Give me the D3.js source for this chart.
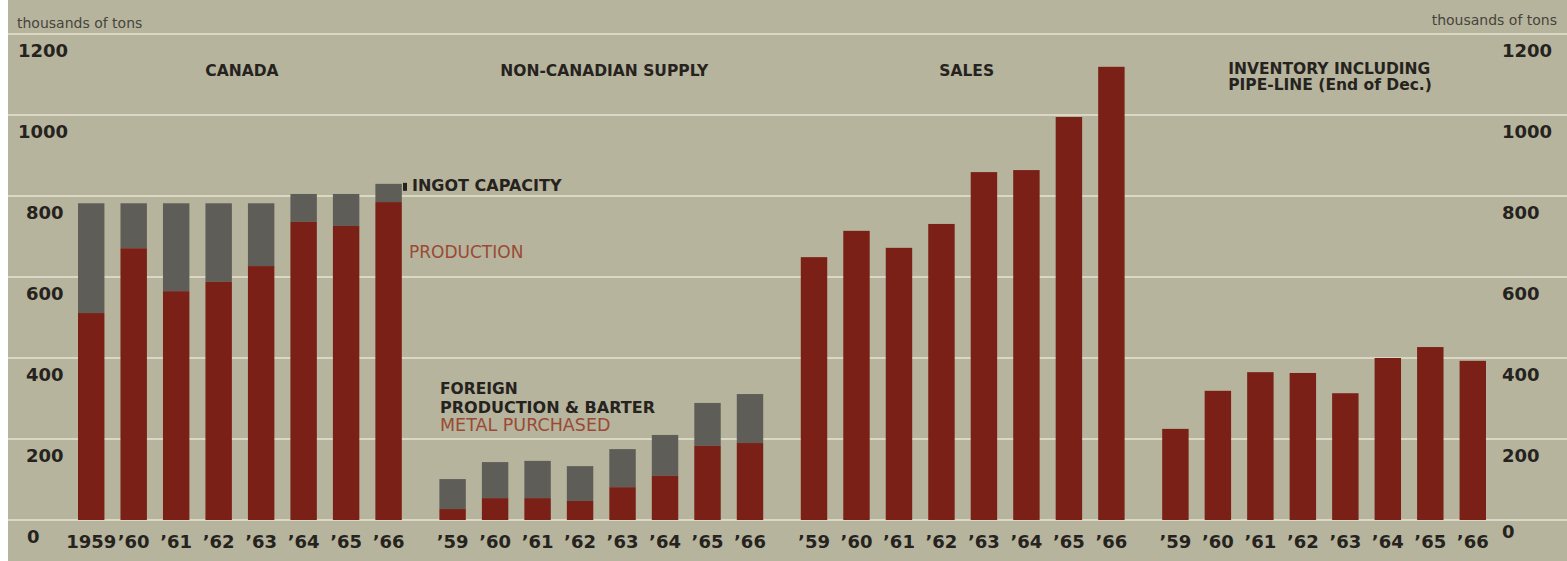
<!DOCTYPE html>
<html>
<head>
<meta charset="utf-8">
<script src="https://cdn.jsdelivr.net/npm/d3@7"></script>
<style>
  html, body { margin: 0; padding: 0; background: #fff; }
  svg { display: block; }
</style>
</head>
<body>
<div id="chart"></div>
<script>
// data (thousands of tons)
const years = ["1959", "1960", "1961", "1962", "1963", "1964", "1965", "1966"];
const groups = ["canada", "foreign", "sales", "inventory"];

const canadaProduction = [511, 671, 565, 588, 627, 736, 726, 785];
const canadaCapacity   = [782, 782, 782, 782, 782, 805, 805, 830];
const metalPurchased   = [27, 54, 54, 47, 81, 109, 183, 190];
const foreignSupply    = [101, 143, 146, 133, 175, 210, 289, 311];   // purchased + production & barter
const sales            = [649, 714, 672, 731, 859, 864, 995, 1119];
const inventory        = [225, 319, 365, 363, 313, 400, 427, 393];

const firstYearLabels = ["1959", "’60", "’61", "’62", "’63", "’64", "’65", "’66"];
const shortYearLabels = ["’59", "’60", "’61", "’62", "’63", "’64", "’65", "’66"];
const yTicks = [0, 200, 400, 600, 800, 1000, 1200];

const width = 1567;
const height = 561;

const colors = {
  bg: "#b6b49c",
  grid: "#dad8c4",
  red: "#7a2016",
  gray: "#5f5d58",
  ink: "#26231f",
  redText: "#9a4a36"
};

const svg = d3.select("#chart")
  .append("svg")
  .attr("width", width)
  .attr("height", height);

// paper background (thin white strip at the left edge like the scan)
svg.append("rect")
  .attr("x", 8).attr("y", 0)
  .attr("width", width - 8).attr("height", height)
  .attr("fill", colors.bg);

const y = d3.scaleLinear().domain([0, 1200]).range([520, 34]);

const xGroup = d3.scaleBand()
  .domain(groups)
  .range([78, 1486])
  .paddingInner(0.104)
  .paddingOuter(0);

const xYear = d3.scaleBand()
  .domain(years)
  .range([0, xGroup.bandwidth()])
  .paddingInner(0.378)
  .paddingOuter(0);

// gridlines
svg.append("g")
  .selectAll("line")
  .data(yTicks)
  .enter()
  .append("line")
  .attr("x1", 8)
  .attr("x2", width)
  .attr("y1", d => y(d))
  .attr("y2", d => y(d))
  .attr("stroke", colors.grid)
  .attr("stroke-width", 2);

// y labels, sitting just below each gridline, both sides
const tickFont = "'DejaVu Sans', sans-serif";
svg.append("g")
  .selectAll("text")
  .data(yTicks)
  .enter()
  .append("text")
  .attr("x", d => d >= 1000 ? 18 : (d === 0 ? 27 : 26))
  .attr("y", d => y(d) + 23)
  .attr("font-family", tickFont)
  .attr("font-weight", "bold")
  .attr("font-size", 18)
  .attr("fill", colors.ink)
  .text(d => d);

svg.append("g")
  .selectAll("text")
  .data(yTicks)
  .enter()
  .append("text")
  .attr("x", 1502)
  .attr("y", d => y(d) + (d === 0 ? 18 : 23))
  .attr("font-family", tickFont)
  .attr("font-weight", "bold")
  .attr("font-size", 18)
  .attr("fill", colors.ink)
  .text(d => d);

// unit notes
svg.append("text")
  .attr("x", 17).attr("y", 28)
  .attr("font-family", tickFont)
  .attr("font-size", 14)
  .attr("fill", "#47443c")
  .text("thousands of tons");

svg.append("text")
  .attr("x", 1557).attr("y", 25)
  .attr("text-anchor", "end")
  .attr("font-family", tickFont)
  .attr("font-size", 14)
  .attr("fill", "#47443c")
  .text("thousands of tons");

// panels: red lower part, optional gray upper part
const panels = [
  { key: "canada", lower: canadaProduction, upper: canadaCapacity, labels: firstYearLabels },
  { key: "foreign", lower: metalPurchased, upper: foreignSupply, labels: shortYearLabels },
  { key: "sales", lower: sales, upper: null, labels: shortYearLabels },
  { key: "inventory", lower: inventory, upper: null, labels: shortYearLabels }
];

panels.forEach(p => {
  const g = svg.append("g")
    .attr("transform", `translate(${xGroup(p.key)},0)`);

  if (p.upper) {
    g.selectAll("rect.upper")
      .data(years)
      .enter()
      .append("rect")
      .attr("class", "upper")
      .attr("x", d => xYear(d))
      .attr("width", xYear.bandwidth())
      .attr("y", (d, i) => y(p.upper[i]))
      .attr("height", (d, i) => y(p.lower[i]) - y(p.upper[i]))
      .attr("fill", colors.gray);
  }

  g.selectAll("rect.lower")
    .data(years)
    .enter()
    .append("rect")
    .attr("class", "lower")
    .attr("x", d => xYear(d))
    .attr("width", xYear.bandwidth())
    .attr("y", (d, i) => y(p.lower[i]))
    .attr("height", (d, i) => y(0) - y(p.lower[i]))
    .attr("fill", colors.red);

  g.selectAll("text.year")
    .data(years)
    .enter()
    .append("text")
    .attr("class", "year")
    .attr("x", d => xYear(d) + xYear.bandwidth() / 2)
    .attr("y", 548)
    .attr("text-anchor", "middle")
    .attr("font-family", tickFont)
    .attr("font-weight", "bold")
    .attr("font-size", 18)
    .attr("fill", colors.ink)
    .text((d, i) => p.labels[i]);
});

// panel titles
const titleFont = "'DejaVu Sans', sans-serif";
function title(x, yy, txt, anchor) {
  svg.append("text")
    .attr("x", x).attr("y", yy)
    .attr("text-anchor", anchor || "middle")
    .attr("font-family", titleFont)
    .attr("font-weight", "bold")
    .attr("font-size", 15.5)
    .attr("fill", colors.ink)
    .text(txt);
}
const mid = k => xGroup(k) + xGroup.bandwidth() / 2;
title(mid("canada") + 2, 76, "CANADA");
title(mid("foreign") + 3, 76, "NON-CANADIAN SUPPLY");
title(mid("sales") + 4, 76, "SALES");
title(xGroup("inventory") + 66, 74, "INVENTORY INCLUDING", "start");
title(xGroup("inventory") + 66, 90, "PIPE-LINE (End of Dec.)", "start");

// series labels
function label(x, yy, txt, fill, bold, size) {
  svg.append("text")
    .attr("x", x).attr("y", yy)
    .attr("font-family", titleFont)
    .attr("font-weight", bold ? "bold" : "normal")
    .attr("font-size", size)
    .attr("fill", fill)
    .text(txt);
}
svg.append("rect")
  .attr("x", 403).attr("y", y(830) - 1)
  .attr("width", 4).attr("height", 8)
  .attr("fill", colors.ink);
label(412, 191, "INGOT CAPACITY", colors.ink, true, 16);
label(409, 258, "PRODUCTION", colors.redText, false, 17);
label(440, 394, "FOREIGN", colors.ink, true, 15.5);
label(440, 413, "PRODUCTION & BARTER", colors.ink, true, 16);
label(440, 431, "METAL PURCHASED", colors.redText, false, 17.5);
</script>
</body>
</html>
